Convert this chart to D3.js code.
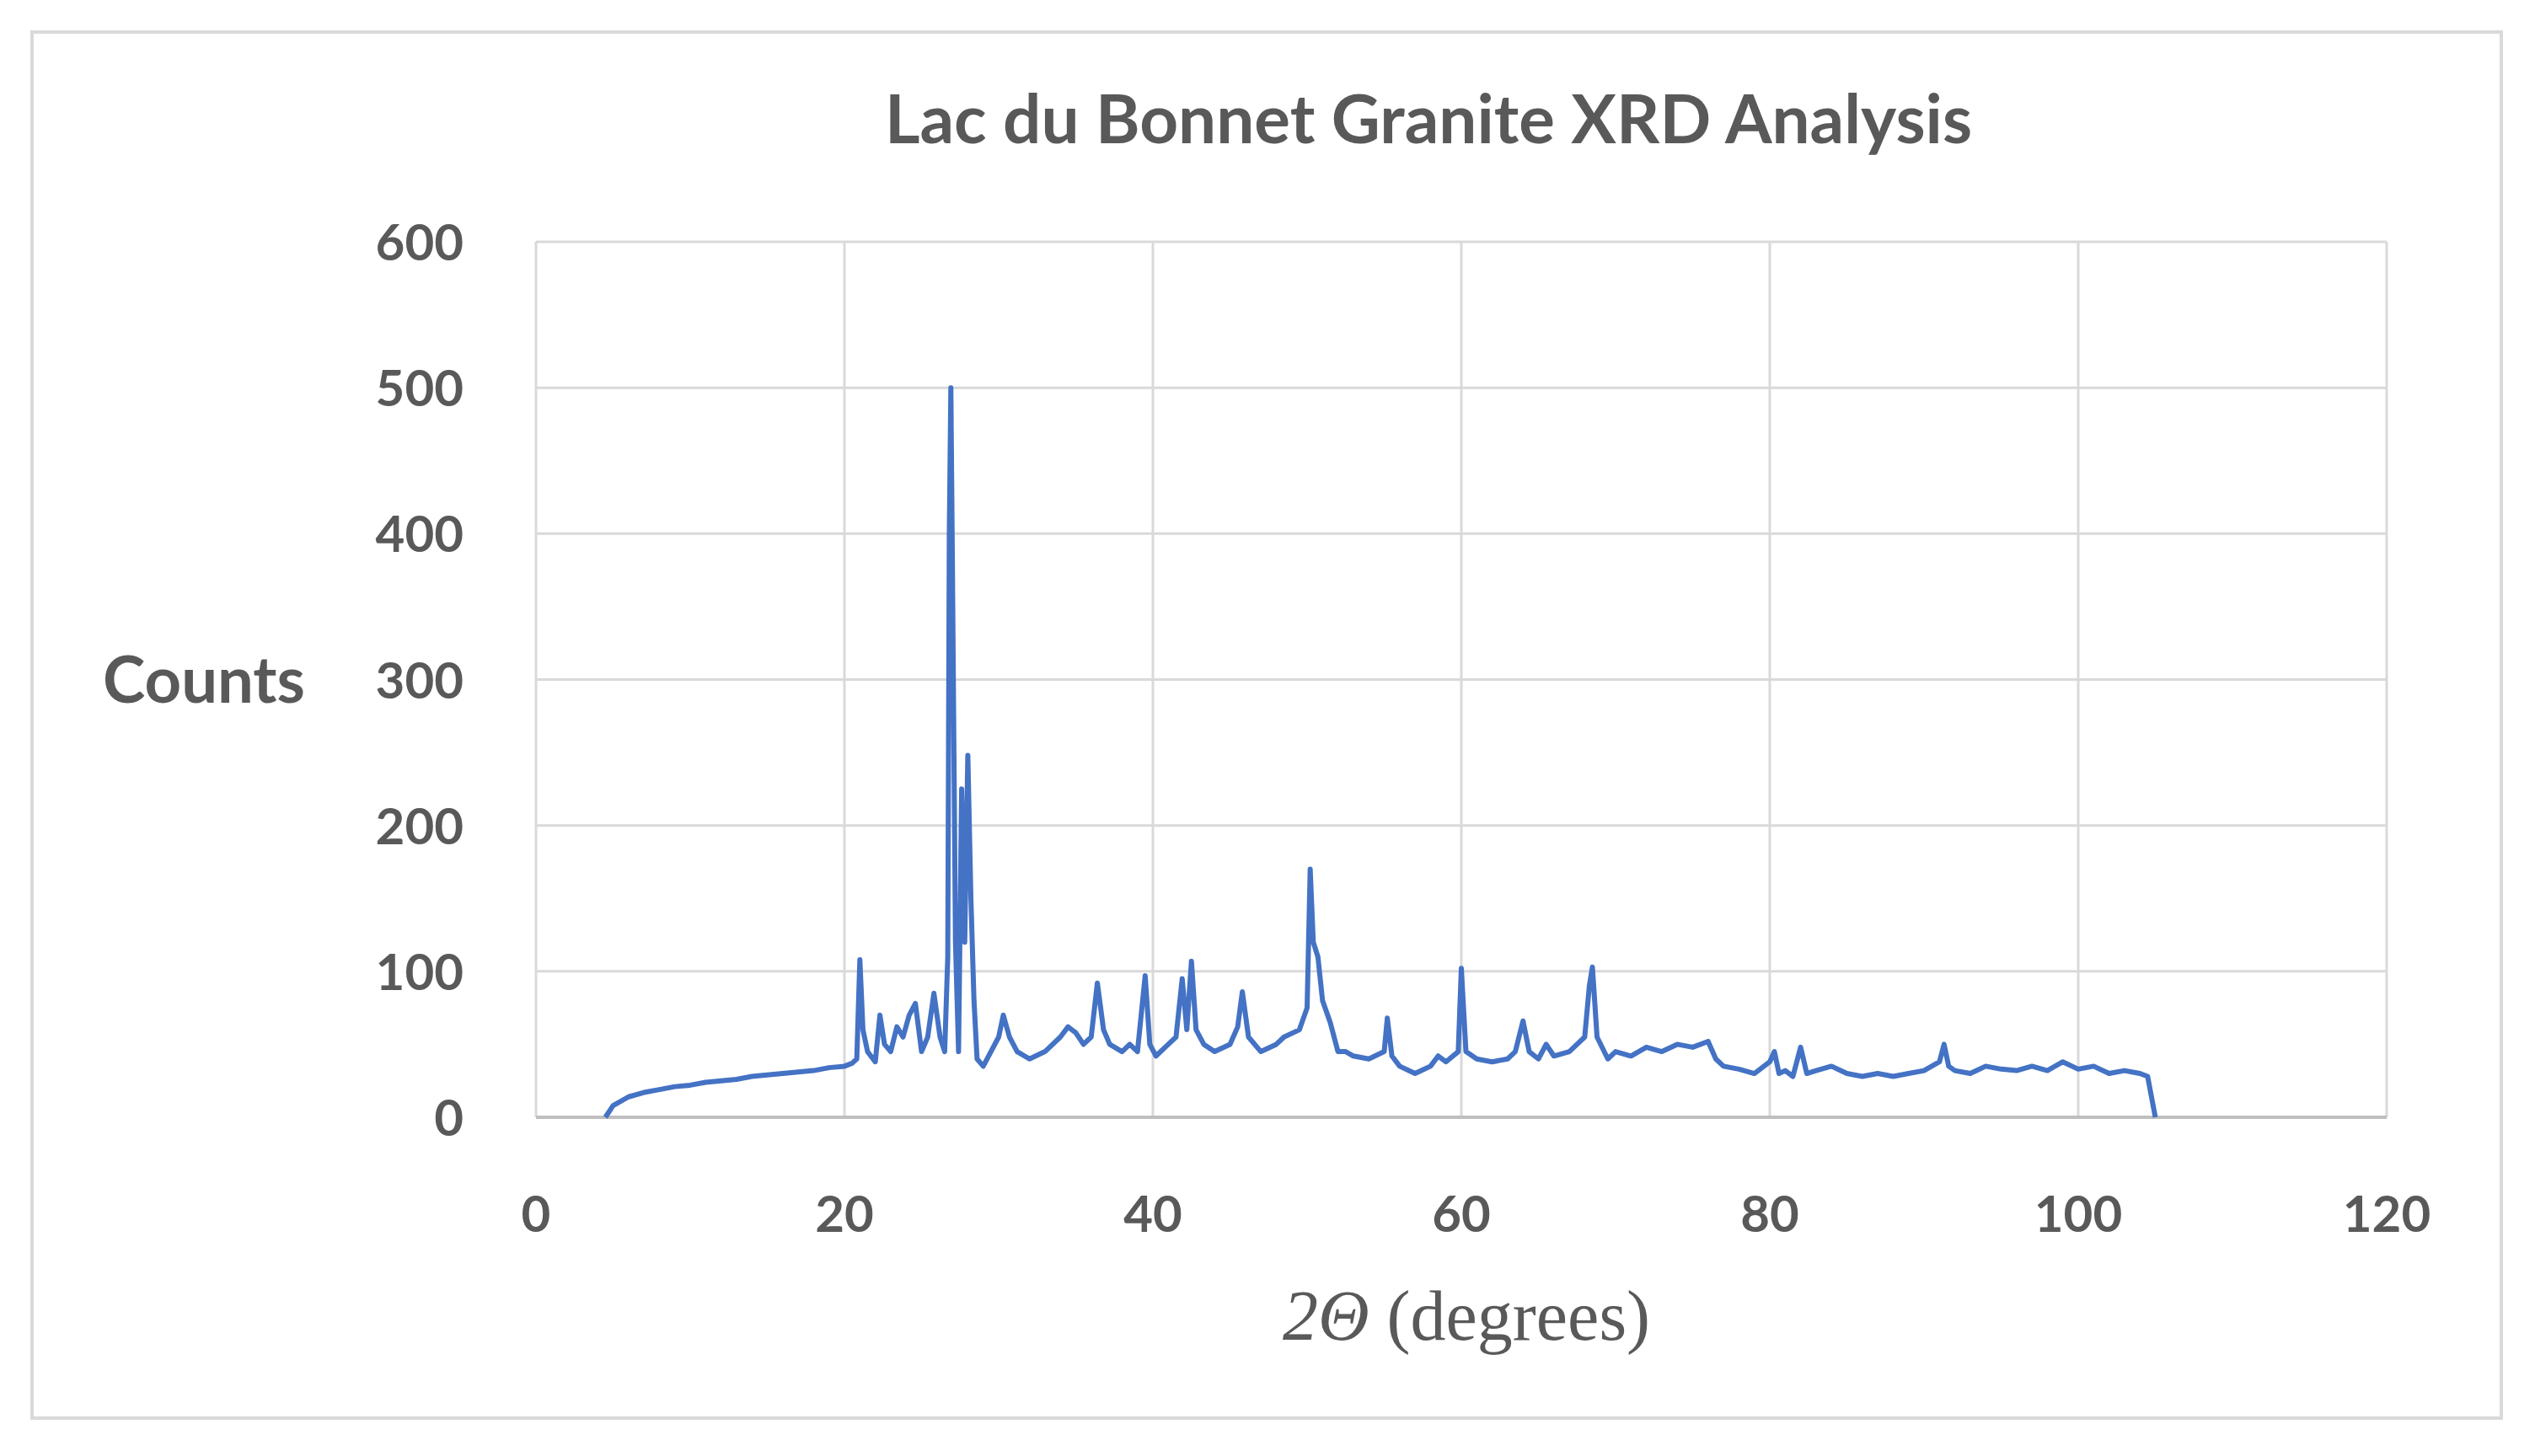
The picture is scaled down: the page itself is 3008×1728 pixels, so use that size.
<!DOCTYPE html>
<html><head><meta charset="utf-8">
<script src="https://cdn.jsdelivr.net/npm/d3@7"></script>
<style>body{margin:0;background:#fff}</style>
</head><body>
<script>
// 2θ (degrees) and counts
const twoTheta = [4.5,5,6,7,8,9,10,11,12,13,14,15,16,17,18,19,20,20.5,20.8,21.0,21.2,21.5,22,22.3,22.6,23,23.4,23.8,24.2,24.6,25,25.4,25.8,26.2,26.5,26.7,26.8,26.9,27.0,27.2,27.4,27.6,27.8,28.0,28.2,28.4,28.6,29,29.5,30,30.3,30.7,31.2,32,33,34,34.5,35,35.5,36,36.4,36.8,37.2,38,38.5,39,39.5,39.8,40.2,41,41.5,41.9,42.2,42.5,42.8,43.3,44,45,45.5,45.8,46.2,47,48,48.5,49.5,50,50.2,50.4,50.7,51,51.5,52,52.5,53,54,55,55.2,55.5,56,57,58,58.5,59,59.8,60,60.3,61,62,63,63.5,64,64.4,65,65.5,66,67,68,68.3,68.5,68.8,69.5,70,71,72,73,74,75,76,76.5,77,78,79,80,80.3,80.6,81,81.5,82,82.4,83,84,85,86,87,88,89,90,91,91.3,91.6,92,93,94,95,96,97,98,99,100,101,102,103,104,104.5,105];
const counts = [0,8,14,17,19,21,22,24,25,26,28,29,30,31,32,34,35,37,40,108,60,45,38,70,50,45,62,55,70,78,45,55,85,55,45,110,400,500,380,120,45,225,120,248,150,80,40,35,45,55,70,55,45,40,45,55,62,58,50,55,92,60,50,45,50,45,97,50,42,50,55,95,60,107,60,50,45,50,62,86,55,45,50,55,60,75,170,120,110,80,65,45,45,42,40,45,68,42,35,30,35,42,38,45,102,45,40,38,40,45,66,45,40,50,42,45,55,90,103,55,40,45,42,48,45,50,48,52,40,35,33,30,38,45,30,32,28,48,30,32,35,30,28,30,28,30,32,38,50,35,32,30,35,33,32,35,32,38,33,35,30,32,30,28,0];
const xTicks = [0,20,40,60,80,100,120];
const yTicks = [0,100,200,300,400,500,600];

const W = 3008, H = 1728;
const m = {left: 636, right: 2832, top: 287, bottom: 1326};
const txt = '#595959';
const font = 'Lato, "Open Sans", sans-serif';

const svg = d3.select('body').append('svg').attr('width', W).attr('height', H);
svg.append('rect').attr('x', 38).attr('y', 38).attr('width', 2930).attr('height', 1645)
  .attr('fill', '#fff').attr('stroke', '#d9d9d9').attr('stroke-width', 4);

const x = d3.scaleLinear().domain([0, 120]).range([m.left, m.right]);
const y = d3.scaleLinear().domain([0, 600]).range([m.bottom, m.top]);

// grid
svg.append('g').selectAll('line').data(xTicks.slice(1)).join('line')
  .attr('x1', d => x(d)).attr('x2', d => x(d)).attr('y1', m.top).attr('y2', m.bottom)
  .attr('stroke', '#d9d9d9').attr('stroke-width', 3);
svg.append('g').selectAll('line').data(yTicks.slice(1)).join('line')
  .attr('x1', m.left).attr('x2', m.right).attr('y1', d => y(d)).attr('y2', d => y(d))
  .attr('stroke', '#d9d9d9').attr('stroke-width', 3);
svg.append('line').attr('x1', m.left).attr('x2', m.left).attr('y1', m.top).attr('y2', m.bottom)
  .attr('stroke', '#d9d9d9').attr('stroke-width', 3);
svg.append('line').attr('x1', m.left).attr('x2', m.right).attr('y1', m.bottom).attr('y2', m.bottom)
  .attr('stroke', '#bfbfbf').attr('stroke-width', 4);

// tick labels
svg.append('g').selectAll('text').data(xTicks).join('text')
  .attr('x', d => x(d)).attr('y', 1462).attr('text-anchor', 'middle')
  .attr('font-family', font).attr('font-weight', 'bold').attr('font-size', 60).attr('fill', txt)
  .text(d => d);
svg.append('g').selectAll('text').data(yTicks).join('text')
  .attr('x', 550).attr('y', d => y(d) + 22).attr('text-anchor', 'end')
  .attr('font-family', font).attr('font-weight', 'bold').attr('font-size', 60).attr('fill', txt)
  .text(d => d);

// line
const pts = twoTheta.map((t, i) => [t, counts[i]]);
svg.append('path').datum(pts)
  .attr('fill', 'none').attr('stroke', '#4472c4').attr('stroke-width', 6).attr('stroke-linejoin', 'round')
  .attr('d', d3.line().x(d => x(d[0])).y(d => y(d[1])));

// titles
svg.append('text').attr('x', 1695).attr('y', 170).attr('text-anchor', 'middle')
  .attr('font-family', font).attr('font-weight', 'bold').attr('font-size', 80).attr('fill', txt)
  .text('Lac du Bonnet Granite XRD Analysis');
svg.append('text').attr('x', 122).attr('y', 834)
  .attr('font-family', font).attr('font-weight', 'bold').attr('font-size', 76).attr('fill', txt)
  .text('Counts');
const xl = svg.append('text').attr('x', 1740).attr('y', 1590).attr('text-anchor', 'middle')
  .attr('font-family', '"Liberation Serif", "DejaVu Serif", serif').attr('font-size', 84).attr('fill', txt);
xl.append('tspan').attr('font-style', 'italic').text('2Θ');
xl.append('tspan').text(' (degrees)');
</script>
</body></html>
